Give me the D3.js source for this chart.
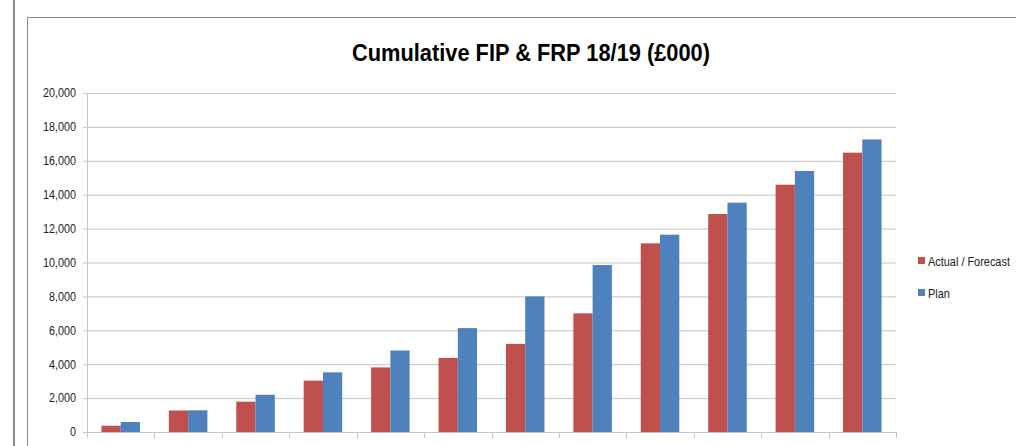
<!DOCTYPE html>
<html>
<head>
<meta charset="utf-8">
<script src="https://cdn.jsdelivr.net/npm/d3@7"></script>
<style>
  html, body { margin: 0; padding: 0; background: #fff; overflow: hidden; }
  svg { display: block; }
</style>
</head>
<body>
<svg id="chart" width="1016" height="446"></svg>
<script>
const titleText = "Cumulative FIP & FRP 18/19 (£000)";
const categories = ["Apr", "May", "Jun", "Jul", "Aug", "Sep", "Oct", "Nov", "Dec", "Jan", "Feb", "Mar"];
const seriesNames = ["Actual / Forecast", "Plan"];
const actualValues = [370, 1270, 1790, 3030, 3810, 4370, 5200, 7000, 11130, 12860, 14590, 16480];
const planValues = [590, 1280, 2200, 3520, 4810, 6130, 8000, 9850, 11640, 13530, 15400, 17260];
const yTicks = [0, 2000, 4000, 6000, 8000, 10000, 12000, 14000, 16000, 18000, 20000];
const colors = ["#C0504D", "#4F81BD"];

(function () {
const svg = d3.select("#chart");
const font = "'Liberation Sans', Arial, sans-serif";

// outer frame lines
svg.append("line").attr("x1", 14).attr("x2", 14).attr("y1", 0).attr("y2", 446)
  .attr("stroke", "#8c8c8c").attr("stroke-width", 2);
svg.append("rect").attr("x", 27.5).attr("y", 17.5).attr("width", 1100).attr("height", 600)
  .attr("fill", "#fff").attr("stroke", "#8a8a8a").attr("stroke-width", 1);

const pL = 87, pR = 896, pT = 93, pB = 432;

const x = d3.scaleBand().domain(categories).range([pL, pR]).paddingInner(0).paddingOuter(0);
const y = d3.scaleLinear().domain([0, 20000]).range([pB, pT]);

const x1 = d3.scaleBand().domain(seriesNames)
  .range([0, x.bandwidth()]).paddingOuter(0.75).paddingInner(0);

// gridlines + y axis
const yAxis = d3.axisLeft(y).tickValues(yTicks).tickSize(-(pR - pL)).tickPadding(11)
  .tickFormat(d3.format(","));
const gy = svg.append("g").attr("transform", `translate(${pL},0)`).call(yAxis);
gy.select(".domain").remove();
gy.selectAll(".tick line").attr("stroke", "#c4c4c4").attr("x1", -4);
gy.selectAll(".tick text").attr("font-family", font).attr("font-size", 12).attr("fill", "#222")
  .attr("textLength", function () { return this.getComputedTextLength() * 0.9; })
  .attr("lengthAdjust", "spacingAndGlyphs");
svg.append("line").attr("x1", pL + 0.5).attr("x2", pL + 0.5).attr("y1", pT).attr("y2", pB)
  .attr("stroke", "#c4c4c4");

// bars
const data = categories.map((c, i) => ({ cat: c, vals: [actualValues[i], planValues[i]] }));
const groups = svg.append("g").selectAll("g").data(data).join("g")
  .attr("transform", d => `translate(${x(d.cat)},0)`);
groups.selectAll("rect").data(d => d.vals.map((v, j) => ({ key: seriesNames[j], v, j })))
  .join("rect")
  .attr("x", d => x1(d.key))
  .attr("width", x1.bandwidth())
  .attr("y", d => y(d.v))
  .attr("height", d => y(0) - y(d.v))
  .attr("fill", d => colors[d.j]);

// x axis
const xAxis = d3.axisBottom(x).tickSize(0).tickFormat("");
const gx = svg.append("g").attr("transform", `translate(0,${pB})`).call(xAxis);
gx.select(".domain").attr("stroke", "#c4c4c4").attr("d", `M${pL},0.5H${pR}`);
const bounds = categories.map(c => x(c)).concat([pR]);
svg.append("g").selectAll("line").data(bounds).join("line")
  .attr("x1", d => Math.round(d) + 0.5).attr("x2", d => Math.round(d) + 0.5)
  .attr("y1", pB).attr("y2", pB + 6).attr("stroke", "#c4c4c4");

// title
svg.append("text").attr("x", 531).attr("y", 61).attr("text-anchor", "middle")
  .attr("font-family", font).attr("font-weight", "bold").attr("font-size", 24)
  .attr("textLength", 358).attr("lengthAdjust", "spacingAndGlyphs")
  .attr("fill", "#000").text(titleText);

// legend
const lg = svg.append("g").attr("transform", "translate(918,0)");
seriesNames.forEach((n, i) => {
  const yy = 261 + i * 32;
  lg.append("rect").attr("x", 0).attr("y", yy - 4).attr("width", 7).attr("height", 7).attr("fill", colors[i]);
  const t = lg.append("text").attr("x", 10).attr("y", yy + 4.5).attr("font-family", font)
    .attr("font-size", 13).attr("fill", "#222").text(n);
  const w = t.node().getComputedTextLength() * 0.84;
  t.attr("textLength", Math.min(w, 86)).attr("lengthAdjust", "spacingAndGlyphs");
});
})();
</script>
</body>
</html>
